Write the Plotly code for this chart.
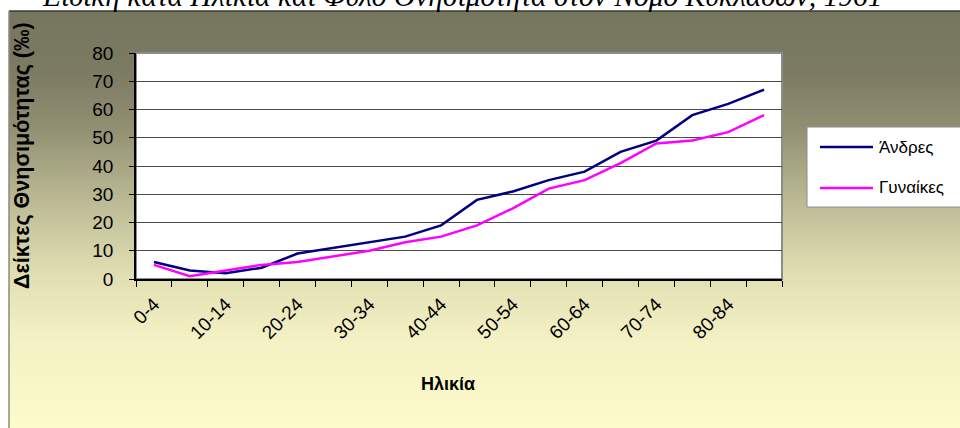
import plotly.graph_objects as go

categories = ["0-4", "5-9", "10-14", "15-19", "20-24", "25-29", "30-34", "35-39",
              "40-44", "45-49", "50-54", "55-59", "60-64", "65-69", "70-74",
              "75-79", "80-84", "85+"]
men = [6, 3, 2, 4, 9, 11, 13, 15, 19, 28, 31, 35, 38, 45, 49, 58, 62, 67]
women = [5, 1, 3, 5, 6, 8, 10, 13, 15, 19, 25, 32, 35, 41, 48, 49, 52, 58]
y_ticks = [0, 10, 20, 30, 40, 50, 60, 70, 80]
title_text = "Ειδική κατά Ηλικία και Φύλο Θνησιμότητα στον Νομό Κυκλάδων, 1961"

W, H = 960, 428
L, R, T, B = 136, 782, 53, 279


def px(x):
    return (x - L) / (R - L)


def py(y):
    return (B - y) / (B - T)


xs = list(range(len(categories)))

fig = go.Figure()
fig.add_trace(go.Scatter(x=xs, y=men, mode="lines", name="Άνδρες",
                         line=dict(color="#000080", width=2.5)))
fig.add_trace(go.Scatter(x=xs, y=women, mode="lines", name="Γυναίκες",
                         line=dict(color="#ff00ff", width=2.5)))

# background gradient
stops = [(11, (118, 117, 93)), (70, (123, 122, 98)), (127, (145, 143, 114)),
         (210, (192, 191, 152)), (280, (227, 225, 180)), (340, (244, 242, 196)),
         (428, (253, 251, 202))]


def col_at(y):
    for (y0, c0), (y1, c1) in zip(stops[:-1], stops[1:]):
        if y0 <= y <= y1:
            t = (y - y0) / (y1 - y0)
            return tuple(round(a + (b - a) * t) for a, b in zip(c0, c1))
    return stops[-1][1]


XR = px(W)
shapes = []
step = 4
y = 11
while y < H:
    c = col_at(y + step / 2)
    shapes.append(dict(type="rect", xref="paper", yref="paper", layer="below",
                       x0=px(9), x1=XR, y0=py(y), y1=py(min(y + step + 0.5, H)),
                       line=dict(width=0), fillcolor="rgb(%d,%d,%d)" % c))
    y += step
# frame borders
shapes.append(dict(type="line", xref="paper", yref="paper", layer="below",
                   x0=px(9), x1=XR, y0=py(11), y1=py(11),
                   line=dict(color="#3a3a30", width=1.5)))
shapes.append(dict(type="line", xref="paper", yref="paper", layer="below",
                   x0=px(9), x1=px(9), y0=py(11), y1=py(H),
                   line=dict(color="#8a8a80", width=1.5)))
# plot area
shapes.append(dict(type="rect", xref="paper", yref="paper", layer="below",
                   x0=0, x1=1, y0=0, y1=1, fillcolor="white",
                   line=dict(color="#8c8c8c", width=2)))
# legend box (continues past the right edge)
shapes.append(dict(type="rect", xref="paper", yref="paper", layer="below",
                   x0=px(807), x1=XR, y0=py(207), y1=py(127),
                   fillcolor="white", line=dict(width=0)))
for (xa, ya, xb, yb) in [(807, 127, W, 127), (807, 207, W, 207), (807, 127, 807, 207)]:
    shapes.append(dict(type="line", xref="paper", yref="paper", layer="below",
                       x0=px(xa), x1=px(xb), y0=py(ya), y1=py(yb),
                       line=dict(color="#8c8c8c", width=1)))
shapes.append(dict(type="line", xref="paper", yref="paper",
                   x0=px(820), x1=px(873), y0=py(147), y1=py(147),
                   line=dict(color="#000080", width=2.5)))
shapes.append(dict(type="line", xref="paper", yref="paper",
                   x0=px(820), x1=px(873), y0=py(188), y1=py(188),
                   line=dict(color="#ff00ff", width=2.5)))

annotations = [
    dict(text=title_text, xref="paper", yref="paper", x=px(462), y=py(14),
         xanchor="center", yanchor="bottom", showarrow=False,
         font=dict(family="Liberation Serif", size=29.5, color="black", style="italic")),
    dict(text="<b>Δείκτες Θνησιμότητας (‰)</b>", xref="paper", yref="paper",
         x=px(22), y=py(155), xanchor="center", yanchor="middle", textangle=-90,
         showarrow=False, font=dict(family="Arial", size=21.5, color="black")),
    dict(text="<b>Ηλικία</b>", xref="paper", yref="paper", x=px(448), y=py(384),
         xanchor="center", yanchor="middle", showarrow=False,
         font=dict(family="Arial", size=18, color="black")),
    dict(text="Άνδρες", xref="paper", yref="paper", x=px(877), y=py(147),
         xanchor="left", yanchor="middle", showarrow=False,
         font=dict(family="Arial", size=17, color="black")),
    dict(text="Γυναίκες", xref="paper", yref="paper", x=px(877), y=py(188),
         xanchor="left", yanchor="middle", showarrow=False,
         font=dict(family="Arial", size=17, color="black")),
]

fig.update_layout(
    width=W, height=H,
    margin=dict(l=L, r=W - R, t=T, b=H - B, pad=0),
    paper_bgcolor="white", plot_bgcolor="white",
    showlegend=False,
    shapes=shapes, annotations=annotations,
    font=dict(family="Arial", color="black"),
    xaxis=dict(range=[-0.5, len(categories) - 0.5], tickmode="array",
               tickvals=xs[::2], ticktext=categories[::2], tickangle=-45,
               ticks="", showgrid=False, zeroline=False,
               ticklabelstandoff=5,
               showline=True, linecolor="black", linewidth=1.5,
               tickfont=dict(family="Arial", size=19),
               minor=dict(tick0=-0.5, dtick=1, ticks="outside", ticklen=6,
                          tickcolor="black", showgrid=False)),
    yaxis=dict(range=[0, 80], tickmode="array", tickvals=y_ticks,
               ticks="outside", ticklen=5, tickcolor="black",
               ticklabelstandoff=12,
               showgrid=True, gridcolor="#4a4a4a", gridwidth=1, zeroline=False,
               showline=True, linecolor="black", linewidth=1.5,
               tickfont=dict(family="Arial", size=19)),
)

fig.write_html(
    "out.html",
    config={"displayModeBar": False, "responsive": False},
    post_script=("document.documentElement.style.margin='0';"
                 "document.documentElement.style.overflow='hidden';"
                 "document.body.style.margin='0';"
                 "document.body.style.overflow='hidden';"),
)
